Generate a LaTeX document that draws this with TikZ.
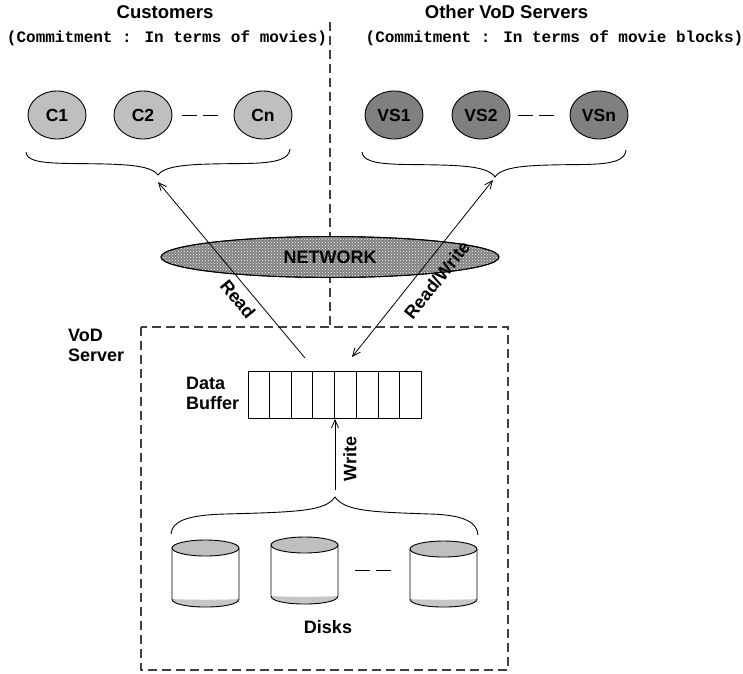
\documentclass[tikz,border=0pt]{standalone}
\usepackage{fontspec}
\setmainfont{Liberation Sans}
\newfontfamily\cmtfont{Liberation Mono}
\usetikzlibrary{shapes.geometric,arrows.meta,patterns,calc}
\newcommand\mydisk[4]{%
  \fill[white] ({#1-33.5},#2) -- ({#1-33.5},#3) .. controls ({#1-33.5},{#3+10.7}) and ({#1+33.5},{#3+10.7}) .. ({#1+33.5},#3) -- ({#1+33.5},#2) -- cycle;
  \fill[gray!45] ({#1-33.5},#3) .. controls ({#1-33.5},{#3+10.7}) and ({#1+33.5},{#3+10.7}) .. ({#1+33.5},#3)
     .. controls ({#1+20},{#3+1}) and ({#1-20},{#3+1}) .. ({#1-33.5},#3) -- cycle;
  \draw[line width=0.9pt] ({#1-33.5},#2) -- ({#1-33.5},#3) .. controls ({#1-33.5},{#3+10.7}) and ({#1+33.5},{#3+10.7}) .. ({#1+33.5},#3) -- ({#1+33.5},#2);
  \draw[line width=0.9pt, fill=gray!50] (#1,#2) ellipse [x radius=33.5, y radius=8];
  \coordinate (#4) at (#1,570);
}
\begin{document}
\begin{tikzpicture}[x=1pt,y=-1pt,
  lbl/.style={font=\fontsize{18}{20}\selectfont\bfseries, inner sep=0pt},
  hdr/.style={font=\fontsize{18.5}{21}\selectfont\bfseries, inner sep=0pt},
  cmt/.style={font=\cmtfont\fontsize{16}{18}\selectfont\bfseries, inner sep=0pt},
  cust/.style={ellipse, draw, line width=0.9pt, fill=gray!50, minimum width=58pt, minimum height=48pt, inner sep=0pt, font=\fontsize{17.5}{20}\selectfont\bfseries},
  vsrv/.style={cust, fill=gray},
  dsh/.style={draw=black!75, line width=1.1pt, dash pattern=on 9pt off 5pt},
  pairdash/.style={line width=1pt, dash pattern=on 15pt off 6pt},
  arr/.style={line width=0.8pt, -{Straight Barb[length=8pt,width=7pt]}},
  darr/.style={line width=0.8pt, {Straight Barb[length=8pt,width=7pt]}-{Straight Barb[length=8pt,width=7pt]}},
  brc/.style={line width=0.9pt},
]
\useasboundingbox (0,0) rectangle (743,673);

% headings
\node[hdr] (hc) at (165,12) {Customers};
\node[hdr] (hs) at (506.5,12) {Other VoD Servers};
\node[cmt] (cc) at (167,38) {(Commitment : In terms of movies)};
\node[cmt] (cs) at (554.5,38) {(Commitment : In terms of movie blocks)};

% vertical dashed divider and server box
\coordinate (divtop) at (330,22);
\coordinate (divbot) at (330,327);
\draw[dsh] (divtop) -- (divbot);
\draw[dsh] (141,327) rectangle (508,670);
\node[lbl, align=left, anchor=north west] (vod) at (68,329) {VoD\\Server};

% customers
\node[cust] (C1) at (57,115) {C1};
\node[cust] (C2) at (143,115) {C2};
\node[cust] (Cn) at (263,115) {Cn};
\draw[pairdash, shorten <=10pt, shorten >=16pt] (C2) -- (Cn);

% other servers
\node[vsrv] (VS1) at (394,115) {VS1};
\node[vsrv] (VS2) at (481,115) {VS2};
\node[vsrv] (VSn) at (599,115) {VSn};
\draw[pairdash, shorten <=8pt, shorten >=13pt] (VS2) -- (VSn);

% braces
\draw[brc] (26,152) .. controls (27,160) and (36,163) .. (70,163.5) .. controls (120,164) and (150,164) .. (158,175)
  .. controls (166,164) and (196,164) .. (246,163.5) .. controls (280,163) and (289,158) .. (290,149);
\draw[brc] (362,152) .. controls (363,160) and (372,164) .. (406,164.5) .. controls (456,165) and (487,165) .. (495,177)
  .. controls (503,165) and (534,165) .. (584,164.5) .. controls (617,164) and (625,159) .. (626,150);

% network
\node[ellipse, draw, line width=0.9pt, fill=black!50, minimum width=338pt, minimum height=41pt, inner sep=0pt] (net) at (330,257) {};
\fill[pattern=crosshatch dots, pattern color=white] (330,257) ellipse [x radius=168, y radius=19.5];
\draw[line width=0.9pt] (330,257) ellipse [x radius=169, y radius=20.5];
\node[lbl] at (net.center) {NETWORK};

% data buffer
\node[lbl, align=left, anchor=west] (dbl) at (186,393) {Data\\Buffer};
\node[draw, line width=0.9pt, minimum width=173pt, minimum height=47pt, inner sep=0pt] (buf) at (334.5,394.5) {};
\foreach \i in {1,...,7} {
  \draw[line width=0.9pt] ($(buf.north west)!\i/8!(buf.north east)$) -- ($(buf.south west)!\i/8!(buf.south east)$);
}

% arrows
\coordinate (rs) at (305,358);
\coordinate (re) at (158,182);
\draw[arr] (rs) -- (re);
\node[lbl, rotate=-50.8] (readl) at (238,299) {Read};
\coordinate (ws) at (352,357);
\coordinate (we) at (493,180);
\draw[darr] (ws) -- (we);
\node[lbl, rotate=51.6] (rwl) at (437,280) {Read/Write};

% disks brace
\draw[brc] (171,534) .. controls (172,522) and (185,515) .. (225,514) .. controls (300,512) and (325,511) .. (335,497)
  .. controls (345,511) and (370,512) .. (430,514) .. controls (468,515) and (477,524) .. (478,535);
\coordinate (dbt) at (335,490);
\coordinate (bufb) at (335,419);
\draw[arr] (dbt) -- (bufb);
\node[lbl, rotate=90] (wl) at (350,459) {Write};

% disks
\mydisk{205.5}{548}{599}{d1}
\mydisk{304.5}{545}{596}{d2}
\mydisk{443.5}{549}{599}{d3}
\draw[pairdash, shorten <=17pt, shorten >=18pt] ($(d2)+(33.5,0)$) -- ($(d3)+(-33.5,0)$);
\node[lbl] (dl) at (328,627) {Disks};
\end{tikzpicture}
\end{document}
